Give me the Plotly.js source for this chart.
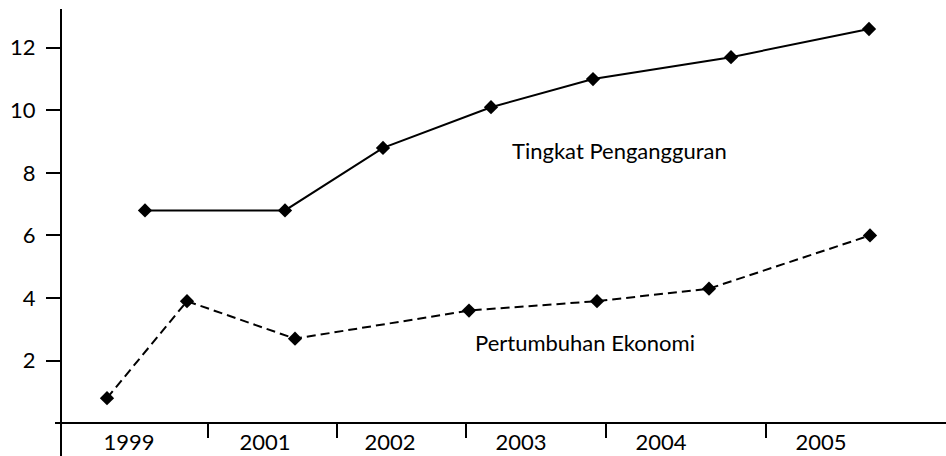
<!DOCTYPE html>
<html>
<head>
<meta charset="utf-8">
<script src="https://cdn.plot.ly/plotly-3.0.1.min.js"></script>
<style>html,body{margin:0;padding:0;background:#fff}#chart{width:946px;height:456px}</style>
</head>
<body>
<div id="chart"></div>
<script>
// Positions along the horizontal axis (arbitrary units, 0 = vertical axis)
const unemploymentX = [0.84, 2.24, 3.22, 4.30, 5.32, 6.70, 8.08];
const unemploymentY = [6.8, 6.8, 8.8, 10.1, 11.0, 11.7, 12.6];
const growthX = [0.46, 1.26, 2.34, 4.08, 5.36, 6.48, 8.09];
const growthY = [0.8, 3.9, 2.7, 3.6, 3.9, 4.3, 6.0];

const yearLabels = ['1999', '2001', '2002', '2003', '2004', '2005'];
const yearLabelPos = [0.68, 2.04, 3.29, 4.60, 6.00, 7.60];
const yearBoundaries = [1.47, 2.76, 4.05, 5.45, 7.05];
const yTicks = [2, 4, 6, 8, 10, 12];

const seriesNames = ['Tingkat Pengangguran', 'Pertumbuhan Ekonomi'];
const labelPos = [[5.58, 8.71], [5.24, 2.59]];

const FONT = 'Lato, "Open Sans", sans-serif';

const traces = [
  {
    x: unemploymentX, y: unemploymentY, type: 'scatter', mode: 'lines+markers',
    name: seriesNames[0],
    line: {color: '#000', width: 2},
    marker: {symbol: 'diamond', size: 11, color: '#000'}
  },
  {
    x: growthX, y: growthY, type: 'scatter', mode: 'lines+markers',
    name: seriesNames[1],
    line: {color: '#000', width: 2, dash: '9px,5px'},
    marker: {symbol: 'diamond', size: 11, color: '#000'}
  }
];

const layout = {
  width: 946, height: 456,
  margin: {l: 55, r: 0, t: 9, b: 0, pad: 0},
  paper_bgcolor: '#fff', plot_bgcolor: '#fff',
  showlegend: false,
  font: {family: FONT, color: '#000', size: 22},
  xaxis: {
    range: [-0.06, 8.85],
    anchor: 'free', position: 0.0738,
    showline: true, linecolor: '#000', linewidth: 2,
    showgrid: false, zeroline: false,
    tickmode: 'array', tickvals: yearLabelPos, ticktext: yearLabels,
    ticks: '', ticklabelstandoff: 0,
    tickfont: {family: FONT, size: 22, color: '#000'},
    minor: {tickmode: 'array', tickvals: yearBoundaries, ticks: 'outside',
            ticklen: 14, tickwidth: 2, tickcolor: '#000', showgrid: false}
  },
  yaxis: {
    range: [-1.05, 13.24],
    anchor: 'free', position: 0.00673,
    showline: true, linecolor: '#000', linewidth: 2,
    showgrid: false, zeroline: false,
    tickmode: 'array', tickvals: yTicks, ticktext: yTicks.map(String),
    ticks: 'outside', ticklen: 14, tickwidth: 2, tickcolor: '#000',
    ticklabelstandoff: 6,
    tickfont: {family: FONT, size: 22, color: '#000'}
  },
  annotations: seriesNames.map((n, i) => ({
    x: labelPos[i][0], y: labelPos[i][1], xref: 'x', yref: 'y',
    text: n, showarrow: false, xanchor: 'center', yanchor: 'middle',
    font: {family: FONT, size: 22, color: '#000'}
  }))
};

Plotly.newPlot('chart', traces, layout, {staticPlot: true, displayModeBar: false});
</script>
</body>
</html>
